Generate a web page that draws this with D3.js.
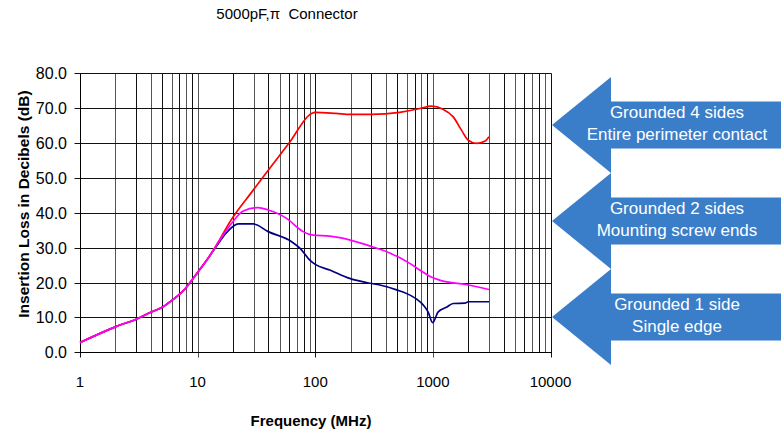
<!DOCTYPE html>
<html>
<head>
<meta charset="utf-8">
<script src="https://cdn.jsdelivr.net/npm/d3@7"></script>
<style>
  body { margin: 0; background: #fff; }
  svg { display: block; font-family: Arial, "Liberation Sans", sans-serif; }
</style>
</head>
<body>
<div id="root"></div>
<script>
const width = 783;
const height = 430;

// frequencies (MHz) and insertion loss (dB)
const freq4 = [1, 2, 3, 4, 5, 6, 7, 8, 9, 10, 11.9, 14.5, 18.8, 29.7, 60.8, 93, 100, 150, 200, 300, 523, 774, 974, 1220, 1490, 1750, 2000, 2340, 2760, 3000];
const loss4 = [2.8, 7.3, 9.5, 11.5, 12.9, 14.8, 16.6, 18.6, 20.8, 22.9, 26.3, 30.8, 37.4, 46.5, 60.3, 68.5, 68.8, 68.5, 68.2, 68.2, 68.8, 69.9, 70.6, 69.7, 67.5, 63.7, 60.8, 59.9, 60.5, 61.8];

const freq2 = [1, 2, 3, 4, 5, 6, 7, 8, 9, 10, 11.9, 14.5, 17, 20, 24.4, 32.7, 39.8, 57, 74.3, 78.8, 96, 133, 161, 291, 430, 636, 774, 930, 1140, 2000, 3000];
const loss2 = [2.8, 7.3, 9.5, 11.5, 12.9, 14.8, 16.6, 18.6, 20.8, 22.9, 26.3, 30.8, 34.3, 37.5, 40.5, 41.5, 40.8, 38.4, 35.2, 34.6, 33.6, 33.3, 32.9, 30.5, 28.5, 25.5, 23.6, 21.9, 20.7, 19.3, 18.0];

const freq1 = [1, 2, 3, 4, 5, 6, 7, 8, 9, 10, 11.9, 14.5, 17.6, 22.2, 29.7, 39.8, 63, 74.3, 78.8, 90, 100, 133, 196, 291, 354, 492, 679, 730, 826, 910, 996, 1110, 1303, 1490, 1870, 2000, 3000];
const loss1 = [2.8, 7.3, 9.5, 11.5, 12.9, 14.8, 16.6, 18.6, 20.8, 22.9, 26.3, 30.5, 34.3, 36.8, 36.8, 34.6, 31.7, 29.8, 28.8, 26.4, 25.2, 23.6, 21.2, 19.8, 19.3, 17.9, 15.9, 15.2, 13.6, 11.6, 8.5, 11.6, 12.9, 14.0, 14.1, 14.5, 14.5];

const seriesColors = ['#ff0000', '#ff00ff', '#000080'];
const arrowLabels = [
    ['Grounded 4 sides', 'Entire perimeter contact'],
    ['Grounded 2 sides', 'Mounting screw ends'],
    ['Grounded 1 side', 'Single edge']
];
const yTicks = [0, 10, 20, 30, 40, 50, 60, 70, 80];
const xTicks = [1, 10, 100, 1000, 10000];

// drawn in this order: navy first, magenta last (on top where the curves overlap)
const series = [
    {f: freq1, v: loss1, color: seriesColors[2]},
    {f: freq4, v: loss4, color: seriesColors[0]},
    {f: freq2, v: loss2, color: seriesColors[1]}
];

const plotLeft = 80, plotRight = 550.5, plotTop = 73.3, plotBottom = 352.3;

const x = d3.scaleLog().domain([1, 10000]).range([plotLeft, plotRight]);
const y = d3.scaleLinear().domain([0, 80]).range([plotBottom, plotTop]);

const svg = d3.select('#root')
    .append('svg')
    .attr('width', width)
    .attr('height', height);

// title
svg.append('text')
    .attr('x', 287)
    .attr('y', 19)
    .attr('text-anchor', 'middle')
    .attr('font-size', 15)
    .style('white-space', 'pre')
    .text('5000pF,\u03c0  Connector');

// minor grid for every 1..9 per decade
const minor = [];
for (let d = 1; d < 10000; d *= 10) {
    for (let k = 1; k < 10; k++) minor.push(d * k);
}
minor.push(10000);

const px = v => Math.round(v) + 0.5;

svg.append('g')
    .selectAll('line')
    .data(minor)
    .join('line')
    .attr('x1', d => px(x(d)))
    .attr('x2', d => px(x(d)))
    .attr('y1', px(plotTop))
    .attr('y2', d => xTicks.includes(d) ? px(plotBottom) + 5 : px(plotBottom))
    .attr('stroke', (d, i) => i % 2 ? '#555' : '#111')
    .attr('stroke-width', 1);

svg.append('g')
    .selectAll('line')
    .data(yTicks)
    .join('line')
    .attr('x1', px(plotLeft) - 6)
    .attr('x2', px(plotRight))
    .attr('y1', d => px(y(d)))
    .attr('y2', d => px(y(d)))
    .attr('stroke', '#111')
    .attr('stroke-width', 1);

// axes lines
svg.append('line')
    .attr('x1', px(plotLeft)).attr('x2', px(plotLeft))
    .attr('y1', px(plotTop)).attr('y2', px(plotBottom))
    .attr('stroke', '#000');
svg.append('line')
    .attr('x1', px(plotLeft)).attr('x2', px(plotRight))
    .attr('y1', px(plotBottom)).attr('y2', px(plotBottom))
    .attr('stroke', '#000');

// tick labels
svg.append('g')
    .selectAll('text')
    .data(yTicks)
    .join('text')
    .attr('x', 67)
    .attr('y', d => y(d) + 6)
    .attr('text-anchor', 'end')
    .attr('font-size', 16)
    .text(d => d3.format('.1f')(d));

svg.append('g')
    .selectAll('text')
    .data(xTicks)
    .join('text')
    .attr('x', d => x(d))
    .attr('y', 387)
    .attr('text-anchor', 'middle')
    .attr('font-size', 15)
    .text(d => d);

// axis titles
svg.append('text')
    .attr('transform', 'translate(29,204) rotate(-90)')
    .attr('text-anchor', 'middle')
    .attr('font-size', 15.5)
    .attr('font-weight', 'bold')
    .text('Insertion Loss in Decibels (dB)');

svg.append('text')
    .attr('x', 311)
    .attr('y', 426)
    .attr('text-anchor', 'middle')
    .attr('font-size', 15)
    .attr('font-weight', 'bold')
    .text('Frequency (MHz)');

// data lines
const line = d3.line()
    .x(d => x(d[0]))
    .y(d => y(d[1]))
    .curve(d3.curveMonotoneX);

svg.append('g')
    .selectAll('path')
    .data(series)
    .join('path')
    .attr('d', s => line(s.f.map((f, i) => [f, s.v[i]])))
    .attr('fill', 'none')
    .attr('stroke', s => s.color)
    .attr('stroke-width', 1.7)
    .attr('stroke-linejoin', 'round');

// arrow callouts
const arrowTips = [125, 221, 317];
const arrow = svg.append('g');
arrowTips.forEach((ty, i) => {
    const tipX = 552, headX = 611, endX = 781;
    const pts = [
        [tipX, ty],
        [headX, ty - 48],
        [headX, ty - 23.5],
        [endX, ty - 23.5],
        [endX, ty + 23.5],
        [headX, ty + 23.5],
        [headX, ty + 48]
    ];
    arrow.append('path')
        .attr('d', d3.line()(pts) + 'Z')
        .attr('fill', '#3a7dc8');
    arrow.append('text')
        .attr('x', 677)
        .attr('y', ty - 7)
        .attr('text-anchor', 'middle')
        .attr('font-size', 17)
        .attr('fill', '#fff')
        .text(arrowLabels[i][0]);
    arrow.append('text')
        .attr('x', 677)
        .attr('y', ty + 14.5)
        .attr('text-anchor', 'middle')
        .attr('font-size', 17)
        .attr('fill', '#fff')
        .text(arrowLabels[i][1]);
});
</script>
</body>
</html>
